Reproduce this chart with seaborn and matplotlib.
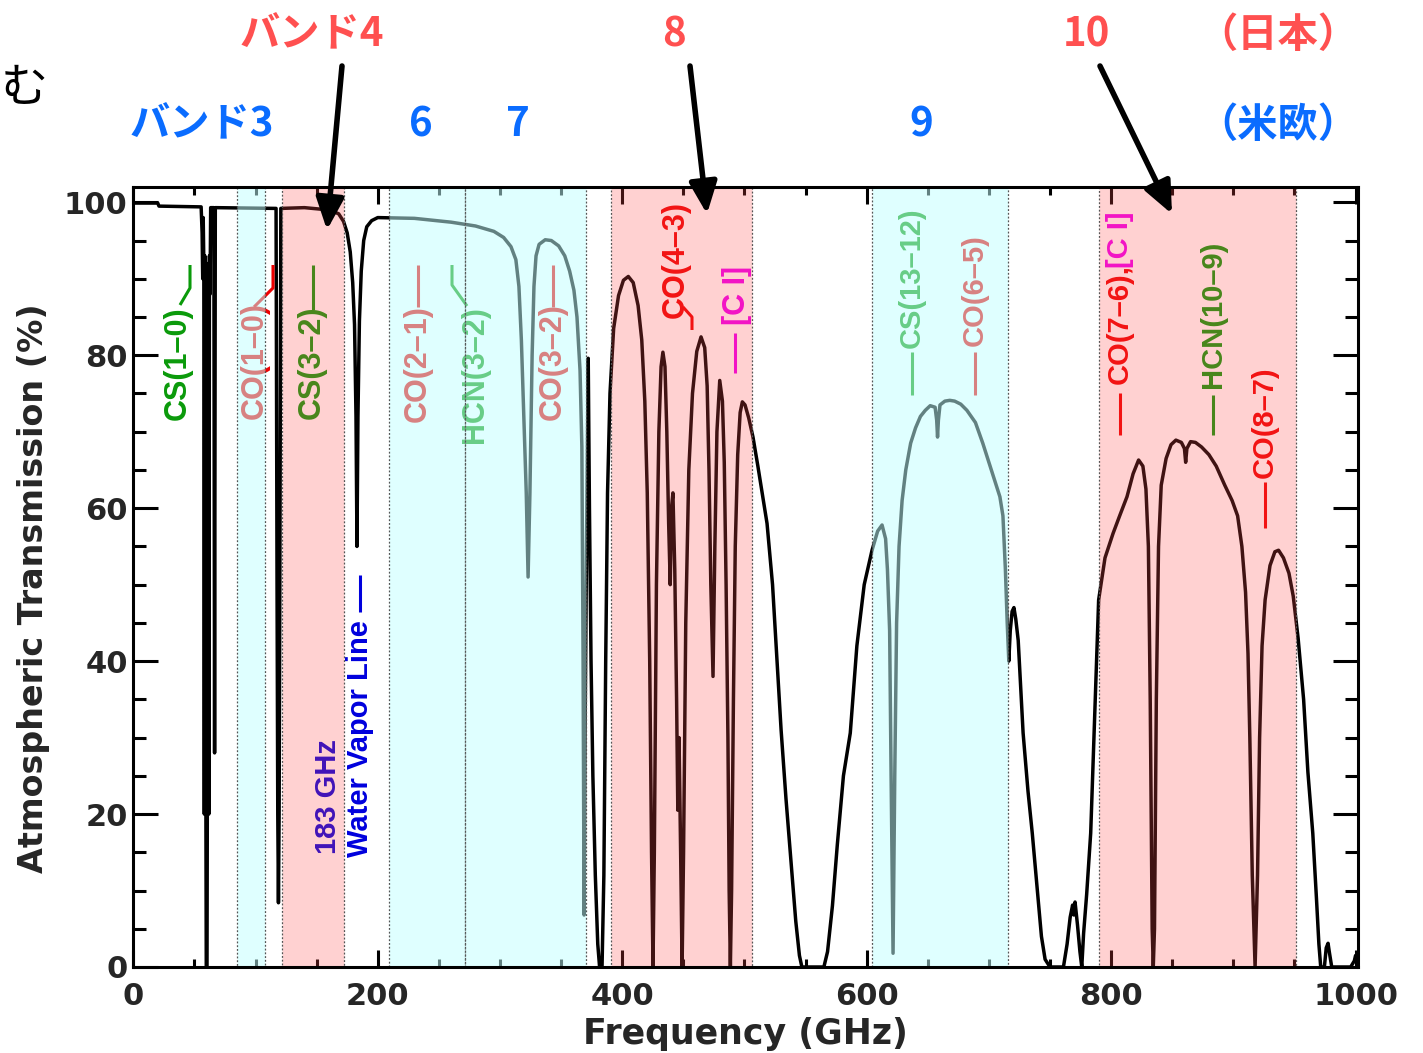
import numpy as np
import pandas as pd
import matplotlib
matplotlib.use("Agg")
import matplotlib.pyplot as plt
from matplotlib.transforms import Affine2D
from matplotlib.ticker import MultipleLocator
import seaborn as sns

# ---------------- data ----------------
freq_ghz = [
    0, 20, 21, 55.5, 56.3, 56.8, 57.2, 57.7, 58.1, 58.5, 59.1, 59.7, 60.3, 60.8, 61.3, 61.8,
    62.3, 62.8, 63.3, 65.9, 66.5, 67.1, 116.8, 117.6, 118.2, 118.75, 119.3, 119.9, 120.7,
    140, 160, 168,
    172, 175, 177.5, 179.5, 181, 182.2, 183.0, 183.8, 185, 186.5, 188.5, 191, 195, 200, 230,
    260, 280, 295, 303, 309, 313, 315.5, 317.5, 319.5, 321.5, 323.0, 324.5, 326.3, 327.8,
    329.5, 332, 337, 342, 348, 353, 357, 360.5, 363, 365.5, 367.0, 368.0, 368.8, 369.6,
    370.8, 372.2, 373.2, 374.5, 376, 378, 380, 381.5, 383.5, 385, 386.5, 388, 390, 393, 397,
    401, 405, 409, 413, 416, 418.5, 420.5, 422.5, 424.0, 425.2, 426.3, 428, 430, 431.8,
    433.3, 435, 436.5, 438, 439.3, 440.3, 441.5, 443, 444.5, 445.5, 446.5, 447.8, 449,
    450.2, 452, 454.5, 457.5, 461, 464.5, 467.5, 469.5, 471, 472.5, 474.3, 475.8, 477.5,
    479.8, 482, 483.5, 485, 486.5, 487.5, 488.5, 489.5, 491, 492.5, 494.5, 496.5, 498.3,
    500.5, 503.5, 507, 511, 515, 518.5, 523, 527, 530, 534, 538, 542, 545, 547, 565, 568, 572, 576,
    581, 586.6, 592, 598, 604.4, 609, 612.6, 615.5, 617, 618.8, 620, 621.6, 623, 624.5,
    626.5, 629, 632, 636, 640, 644, 648, 652, 656, 657.3, 658, 658.7, 660, 664, 668, 672,
    677, 682, 689, 695, 700, 705, 709, 711.5, 713.5, 715, 716.3, 717.5, 719, 720.5, 722,
    724, 728, 732, 735.5, 740.3, 743, 746, 750, 761, 764, 766.5, 768.5, 769.5, 770.5, 772.5,
    774.5, 776, 777.5, 780, 783.3, 786, 789.8, 795, 801.6, 807, 813, 818, 822.5, 826, 828.5,
    830.5, 832, 833.6, 834.5, 835.5, 837, 838.8, 841, 845, 849, 853, 857.5, 860, 861, 862,
    865, 869, 874, 880, 886, 893, 899, 903.5, 907, 910, 912, 913.5, 915.5, 917.8, 919.8,
    921.5, 923.5, 926, 930, 934, 937, 941, 945.5, 949, 953, 957.5, 961, 965, 968, 970,
    971.5, 974.5, 976, 977.5, 978.5, 980.5, 996, 999, 1000,
]
transmission_pct = [
    99.9, 99.9, 99.5, 99.4, 96, 90, 98, 92, 20, 93, 40, 0, 0, 40, 92, 20,
    93, 88, 99.3, 99.3, 28, 99.3, 99.2, 50, 20, 8.4, 20, 50, 99.2,
    99.3, 99.0, 98.5,
    97.5, 96, 93.5, 89.5, 84, 72, 55, 72, 84.5, 91, 95, 96.8, 97.6, 98.0, 97.9,
    97.4, 96.9, 96.2, 95.4, 94.2, 92.5, 89, 82, 72, 62, 51, 62, 80, 89,
    93, 94.5, 95.1, 95.0, 94.3, 93, 91, 88.5, 85, 78, 68, 40, 6.8, 30,
    55, 79.6, 60, 40, 25, 12, 3, 0, 0, 12, 40, 62, 75, 83.5, 87.8,
    89.8, 90.3, 89.5, 86.5, 82, 74, 62, 40, 15, 0, 15, 50, 70, 78.5,
    80.4, 78.5, 70, 58, 50, 60, 62, 52, 35, 20.5, 30, 15, 0,
    15, 45, 65, 75, 80.5, 82.4, 81, 76, 65, 50, 38, 55, 70,
    76.7, 74, 66, 50, 30, 10, 0, 10, 35, 55, 67, 72.5, 73.9,
    73.5, 71.8, 69.3, 65.5, 61.5, 58, 50, 39, 31, 22, 14, 6, 1.5, 0, 0, 2, 8, 16,
    25, 30.6, 42, 50, 54.5, 57, 57.8, 56, 52, 44, 25, 1.8, 25, 45,
    55, 61, 65, 68.5, 70.5, 72, 72.8, 73.4, 73.2, 71.5, 69.3, 71.5, 73.5, 74, 74.1, 74.0,
    73.6, 72.8, 71.2, 68.5, 66, 63.5, 61.5, 59, 52, 45, 40, 44, 46.5, 47, 45.5,
    42.7, 30.6, 23, 17.5, 8.8, 4, 1, 0, 0, 3, 6.5, 8.1, 6.8, 8.5, 5.5,
    2, 0, 4.4, 9.5, 17.5, 30, 48, 53.5, 56.7, 59, 61.5, 64.5, 66.3, 65.5, 62.5,
    55, 35, 5, 0, 5, 35, 55, 63, 66.5, 68.3, 68.9, 68.6, 67.8, 66, 67.8,
    68.7, 68.6, 68, 67, 65.5, 63, 61, 59, 55, 49, 41, 30, 12, 0, 12,
    30, 42, 48, 52.5, 54.3, 54.5, 53.5, 51.5, 48.5, 43, 35, 25.5, 17.5, 9, 3,
    0, 0, 2.5, 3.1, 2, 0, 0, 0.8, 1.5,
]

band_lo_ghz = [85, 122, 209, 271, 391, 604.5, 790]
band_hi_ghz = [108, 172, 271, 370, 506, 716, 951]
band_kind = ["cyan", "pink", "cyan", "cyan", "pink", "cyan", "pink"]

x_tick_values = [0, 200, 400, 600, 800, 1000]
y_tick_values = [0, 20, 40, 60, 80, 100]

# ---------------- style ----------------
sns.set_theme(style="ticks")
plt.rcParams["font.family"] = ["DejaVu Sans", "Noto Sans CJK JP"]
plt.rcParams["axes.linewidth"] = 2.2

W, H = 1423, 1053
fig = plt.figure(figsize=(W / 100, H / 100), dpi=100)
fig.patch.set_facecolor("white")
L, R, TOP, BOT = 133.3, 1358.0, 187.0, 967.0
ax = fig.add_axes([L / W, 1 - BOT / H, (R - L) / W, (BOT - TOP) / H])
ax.set_facecolor("white")

# pixel coordinates (origin top-left) for annotation layout
PX = Affine2D().scale(1, -1).translate(0, H)

df = pd.DataFrame({"Frequency (GHz)": freq_ghz,
                   "Atmospheric Transmission (%)": transmission_pct})
sns.lineplot(data=df, x="Frequency (GHz)", y="Atmospheric Transmission (%)",
             estimator=None, sort=False, color="black", linewidth=2.5,
             ax=ax, zorder=2)

ax.set_xlim(0, 1002)
ax.set_ylim(0, 102)
ax.set_xticks(x_tick_values)
ax.set_xticklabels([str(v) for v in x_tick_values])
ax.set_yticks(y_tick_values)
ax.set_yticklabels([str(v) for v in y_tick_values])
ax.xaxis.set_minor_locator(MultipleLocator(50))
ax.yaxis.set_minor_locator(MultipleLocator(5))
ax.tick_params(axis="both", which="both", direction="in", top=True, right=True,
               width=2.2, color="black")
ax.tick_params(axis="x", which="major", length=12, pad=11, labelsize=22)
ax.tick_params(axis="x", which="minor", length=6)
ax.tick_params(axis="y", which="major", length=18, pad=4, labelsize=22)
ax.tick_params(axis="y", which="minor", length=9.5)
for lbl in ax.get_xticklabels() + ax.get_yticklabels():
    lbl.set_fontweight("bold")
for sp in ax.spines.values():
    sp.set_zorder(6)
    sp.set_color("black")

ax.set_xlabel("Frequency (GHz)", fontsize=25, fontweight="bold")
ax.xaxis.set_label_coords(0.5, (BOT - 1017) / (BOT - TOP))
ax.set_ylabel("Atmospheric Transmission (%)", fontsize=24, fontweight="bold")
ax.yaxis.set_label_coords((50 - L) / (R - L), (BOT - 588) / (BOT - TOP))

# ---------------- molecular line labels ----------------
GREEN, RED, MAG, BLUE = "#0A9A0A", "#EE0000", "#EE00EE", "#0000DD"
labels = [
    ("CS(1–0)", 178, 420, GREEN, 22),
    ("CO(1–0)", 255, 419, RED, 22),
    ("CS(3–2)", 312, 419, GREEN, 22),
    ("CO(2–1)", 418, 422, RED, 22),
    ("HCN(3–2)", 475, 443, GREEN, 22),
    ("CO(3–2)", 553, 420, RED, 22),
    ("CO(4–3)", 676, 318, RED, 22),
    ("[C I]", 737, 325, MAG, 22),
    ("CS(13–12)", 912, 348, GREEN, 21),
    ("CO(6–5)", 975, 346, RED, 21),
    ("CO(7–6),", 1120, 384, RED, 21),
    ("[C I]", 1120, 268, MAG, 21),
    ("HCN(10–9)", 1213, 388, GREEN, 21),
    ("CO(8–7)", 1265, 478, RED, 21),
    ("183 GHz", 328, 854, BLUE, 21),
    ("Water Vapor Line", 360, 857, BLUE, 21),
]
for txt, x, y, c, fs in labels:
    ax.text(x, y, txt, transform=PX, rotation=90, ha="center", va="bottom",
            fontsize=fs, color=c, fontweight="bold", family="Liberation Sans",
            zorder=3, clip_on=False)

leaders = [
    ([313, 313], [310, 265], GREEN),
    ([418, 418], [307, 265], RED),
    ([553, 553], [307, 265], RED),
    ([735, 735], [333, 373], MAG),
    ([912, 912], [352, 395], GREEN),
    ([975, 975], [352, 395], RED),
    ([1120, 1120], [393, 435], RED),
    ([1213, 1213], [395, 435], GREEN),
    ([1265, 1265], [482, 528], RED),
    ([360, 360], [612, 575], BLUE),
    ([180, 190, 190], [305, 288, 265], GREEN),
    ([254, 273, 273], [307, 288, 265], RED),
    ([467, 452, 452], [306, 285, 265], GREEN),
    ([692, 692, 683], [330, 317, 307], RED),
]
for xs, ys, c in leaders:
    ax.plot(xs, ys, transform=PX, color=c, lw=2.2, zorder=3, clip_on=False,
            solid_capstyle="butt")

# ---------------- ALMA band shading (overlay) ----------------
for lo, hi, kind in zip(band_lo_ghz, band_hi_ghz, band_kind):
    fc = (194 / 255, 1.0, 1.0, 0.51) if kind == "cyan" else (1.0, 78 / 255, 78 / 255, 0.255)
    ax.axvspan(lo, hi, ymin=0, ymax=1, facecolor=fc, edgecolor="#555555",
               linewidth=0.9, linestyle=(0, (1.5, 1.5)), zorder=4)

# ---------------- band titles and arrows ----------------
JP = ["Noto Sans CJK JP", "DejaVu Sans"]
RED_T, BLUE_T = "#FF5050", "#0A6CFF"
titles = [
    ("バンド4", 312, 35, RED_T), ("8", 674, 35, RED_T), ("10", 1086, 35, RED_T),
    ("（日本）", 1278, 35, RED_T), ("バンド3", 202, 125, BLUE_T), ("6", 421, 125, BLUE_T),
    ("7", 518, 125, BLUE_T), ("9", 921, 125, BLUE_T), ("（米欧）", 1278, 125, BLUE_T),
]
for txt, x, y, c in titles:
    fig.text(x / W, 1 - y / H, txt, ha="center", va="center", fontsize=29,
             fontweight="bold", color=c, family=JP)
fig.text(1 / W, 1 - 89 / H, "む", ha="left", va="center", fontsize=34,
         color="black", family=JP)

arrows = [((342, 66), (327, 230)), ((690, 66), (707, 214)), ((1100, 66), (1172, 214))]
for (x0, y0), (x1, y1) in arrows:
    ax.annotate("", xy=(x1, y1), xytext=(x0, y0), xycoords=PX, textcoords=PX,
                annotation_clip=False, zorder=10,
                arrowprops=dict(arrowstyle="-|>,head_length=0.8,head_width=0.35",
                                lw=4, color="black", mutation_scale=24,
                                shrinkA=0, shrinkB=0))

fig.savefig("out.png", dpi=100, facecolor="white")
